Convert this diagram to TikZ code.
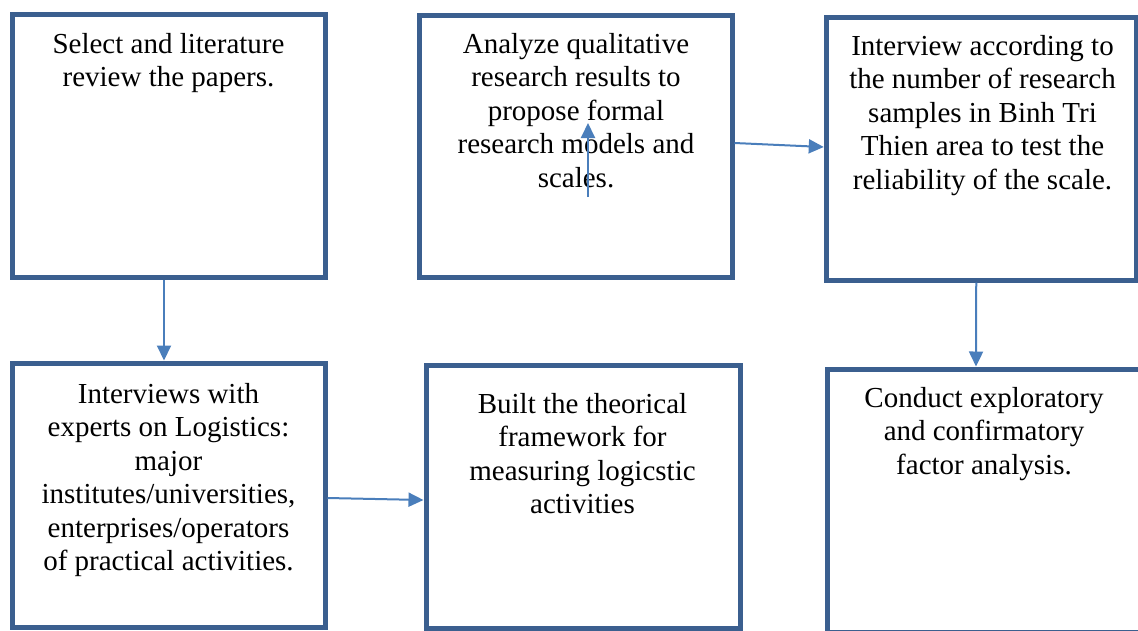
\documentclass[tikz,border=0pt]{standalone}
\usepackage{fontspec}
\setmainfont{Liberation Serif}
\usetikzlibrary{arrows.meta,calc}
\definecolor{boxblue}{RGB}{59,95,143}
\definecolor{arrblue}{RGB}{74,126,187}
\tikzset{
  stepbox/.style={draw=boxblue,line width=5pt,fill=white,rectangle,inner sep=0pt},
  txt/.style={anchor=north,align=center,inner sep=0pt,font=\fontsize{29}{33.5}\selectfont},
  arr/.style={draw=arrblue,line width=2pt,-{Triangle[length=15pt,width=14pt]}}
}
\begin{document}
\begin{tikzpicture}[x=1pt,y=-1pt]
\useasboundingbox (0,0) rectangle (1138,630);
% boxes (centre of stroke coordinates)
\node[stepbox,minimum width=313pt,minimum height=263pt] (a) at (168.5,145.5) {};
\node[stepbox,minimum width=313pt,minimum height=262pt] (b) at (575.5,146) {};
\node[stepbox,minimum width=310pt,minimum height=263pt] (c) at (981.25,148.5) {};
\node[stepbox,minimum width=313pt,minimum height=264pt] (d) at (168.5,495) {};
\node[stepbox,minimum width=314pt,minimum height=263pt] (e) at (583,496.5) {};
\node[stepbox,minimum width=314pt,minimum height=263pt] (f) at (984,500.5) {};
% texts
\node[txt] (ta) at (168.5,33) {Select and literature\\review the papers.};
\node[txt] (tb) at (576,33) {Analyze qualitative\\research results to\\propose formal\\research models and\\scales.};
\node[txt] (tc) at (982.5,35) {Interview according to\\the number of research\\samples in Binh Tri\\Thien area to test the\\reliability of the scale.};
\node[txt] (td) at (168.5,383) {Interviews with\\experts on Logistics:\\major\\institutes/universities,\\enterprises/operators\\of practical activities.};
\node[txt] (te) at (582.5,393) {Built the theorical\\framework for\\measuring logicstic\\activities};
\node[txt] (tf) at (984,387) {Conduct exploratory\\and confirmatory\\factor analysis.};
% connectors
\draw[arr] ($(a.south)+(-4.5,0)$) -- ($(d.north)+(-4.5,0)$);
\draw[arr] ($(d.east)+(0,3)$) -- ($(e.west)+(0,3.5)$);
\draw[arr] ($(b.east)+(0,-3)$) -- ($(c.west)+(0,-1.5)$);
\draw[arr] ($(c.south)+(-5,0)$) -- ($(f.north)+(-8,0)$);
\coordinate (u1) at (588,197);
\coordinate (u2) at (588,123);
\draw[arr] (u1) -- (u2);
\end{tikzpicture}
\end{document}
